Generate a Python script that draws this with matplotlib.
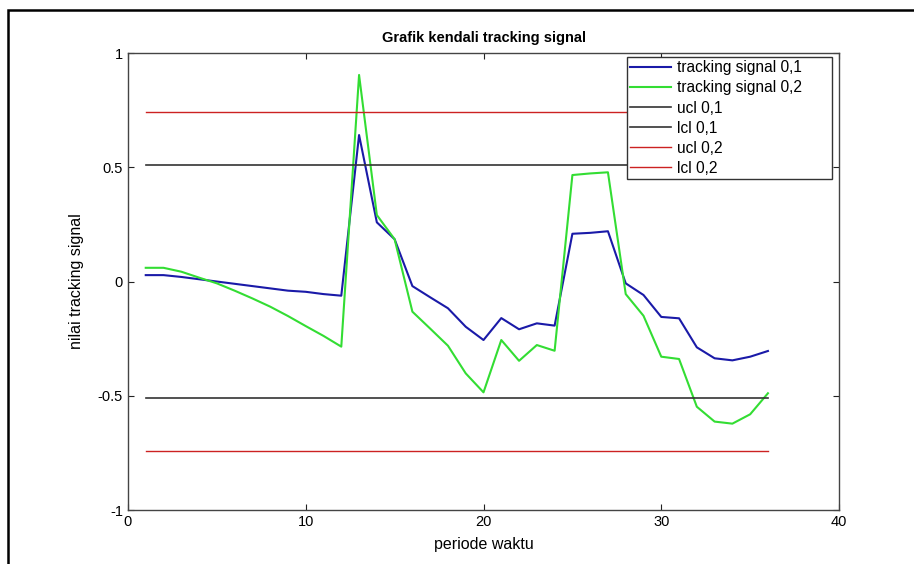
import matplotlib
matplotlib.use('Agg')
import matplotlib.pyplot as plt
from matplotlib.patches import Rectangle

plt.rcParams['font.family'] = ['Liberation Sans', 'DejaVu Sans']

periode = list(range(1, 37))

ts_01 = [0.028, 0.028, 0.02, 0.01, 0.0, -0.01, -0.02, -0.03, -0.04, -0.045, -0.055, -0.062,
         0.641, 0.259, 0.185, -0.02, -0.069, -0.117, -0.198, -0.256, -0.16, -0.209,
         -0.183, -0.193, 0.209, 0.213, 0.22, -0.008, -0.059, -0.155, -0.161, -0.288,
         -0.336, -0.345, -0.329, -0.304]

ts_02 = [0.06, 0.06, 0.043, 0.017, -0.008, -0.04, -0.074, -0.11, -0.151, -0.195, -0.238, -0.285,
         0.904, 0.291, 0.185, -0.132, -0.206, -0.281, -0.402, -0.485, -0.256, -0.347,
         -0.278, -0.303, 0.466, 0.473, 0.478, -0.055, -0.15, -0.329, -0.339, -0.548,
         -0.613, -0.622, -0.581, -0.489]

ucl_01 = 0.511
lcl_01 = -0.511
ucl_02 = 0.742
lcl_02 = -0.742

fig = plt.figure(figsize=(9.14, 5.64), dpi=100)
ax = fig.add_axes([0.140, 0.0957, 0.778, 0.8103])

ax.plot(periode, ts_01, color='#1a1aa8', lw=1.5, label='tracking signal 0,1')
ax.plot(periode, ts_02, color='#33dd33', lw=1.5, label='tracking signal 0,2')
ax.plot(periode, [ucl_01] * len(periode), color='#333333', lw=1.2, label='ucl 0,1')
ax.plot(periode, [lcl_01] * len(periode), color='#333333', lw=1.2, label='lcl 0,1')
ax.plot(periode, [ucl_02] * len(periode), color='#cc2222', lw=1.0, label='ucl 0,2')
ax.plot(periode, [lcl_02] * len(periode), color='#cc2222', lw=1.0, label='lcl 0,2')

ax.set_xlim(0, 40)
ax.set_ylim(-1, 1)
ax.set_xticks([0, 10, 20, 30, 40])
ax.set_yticks([-1, -0.5, 0, 0.5, 1])
ax.set_yticklabels(['-1', '-0.5', '0', '0.5', '1'])
ax.tick_params(direction='in', top=True, right=True, labelsize=10.5, length=4, color='#222222')
for s in ax.spines.values():
    s.set_color('#444444')
    s.set_linewidth(1.0)

ax.set_title('Grafik kendali tracking signal', fontsize=10.5, fontweight='bold', pad=8)
ax.set_xlabel('periode waktu', fontsize=11.5, labelpad=6)
ax.set_ylabel('nilai tracking signal', fontsize=11.5, labelpad=10)

# legend box stretched to the width used in the reference
leg = ax.legend(bbox_to_anchor=(0.702, 0.5, 0.288, 0.491), loc='upper left', mode='expand',
                fontsize=11.2, fancybox=False, framealpha=1, edgecolor='#333333',
                borderaxespad=0, handlelength=2.6, labelspacing=0.33, borderpad=0.2,
                handletextpad=0.4)
leg.get_frame().set_linewidth(1.0)

fig.add_artist(Rectangle((8 / 914, -0.1), 1.2, 1 - 10 / 564 + 0.1, transform=fig.transFigure,
                         fill=False, lw=1.8, edgecolor='black'))

fig.savefig('out.png', dpi=100)
